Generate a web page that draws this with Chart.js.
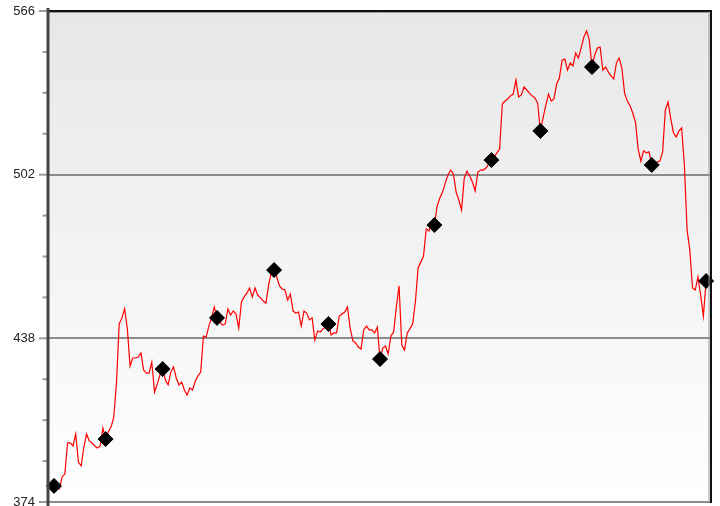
<!DOCTYPE html>
<html>
<head>
<meta charset="utf-8">
<script src="https://cdn.jsdelivr.net/npm/chart.js@4.4.1/dist/chart.umd.min.js"></script>
<style>
  html, body { margin: 0; padding: 0; background: #fff; }
</style>
</head>
<body>
<canvas id="myChart" width="720" height="506"></canvas>
<script>
// valores, un punto por paso
var precios = [
  380.3, 379.5, 379.1, 383.8, 385.0, 397.1, 397.1, 395.9, 400.6, 389.6, 388.1, 395.5, 400.6, 397.9, 397.1, 395.9, 395.1, 395.9, 402.9, 398.6,
  401.4, 403.3, 407.2, 420.5, 443.6, 446.0, 449.5, 441.7, 427.2, 430.3, 430.3, 430.7, 432.3, 425.6, 424.4, 424.4, 428.7, 417.0, 420.1, 423.7,
  426.0, 421.7, 419.8, 424.8, 426.8, 422.5, 419.8, 420.9, 417.8, 415.8, 418.6, 417.8, 421.3, 423.3, 424.8, 438.9, 438.5, 442.8, 446.0, 450.3,
  446.0, 444.4, 443.2, 443.6, 449.5, 447.1, 448.7, 447.5, 442.0, 452.2, 454.2, 455.7, 457.7, 454.2, 457.7, 454.9, 453.8, 452.6, 451.8, 458.9,
  463.9, 464.7, 462.0, 458.5, 457.3, 456.9, 453.0, 455.3, 448.7, 447.9, 448.3, 442.8, 448.7, 447.9, 445.2, 446.0, 437.3, 440.9, 440.5, 441.7,
  442.4, 443.6, 439.3, 440.1, 440.1, 446.7, 447.5, 448.3, 450.3, 442.0, 437.0, 436.2, 434.6, 433.8, 441.3, 442.8, 441.3, 441.3, 440.1, 442.4,
  429.9, 434.2, 435.0, 431.9, 438.9, 440.5, 450.3, 458.5, 435.4, 433.4, 440.1, 441.7, 443.6, 452.2, 465.5, 467.8, 470.2, 480.8, 480.0, 483.1,
  482.3, 489.7, 492.9, 495.2, 498.7, 501.9, 503.8, 502.3, 495.2, 492.1, 488.2, 500.7, 503.4, 501.5, 499.1, 495.6, 503.0, 503.8, 503.8, 504.6,
  506.2, 507.7, 508.9, 510.5, 512.0, 529.6, 530.8, 531.6, 532.8, 533.5, 539.0, 532.4, 533.2, 536.3, 535.1, 533.9, 532.8, 532.0, 530.0, 519.1,
  524.2, 529.2, 533.5, 530.8, 531.6, 537.5, 539.8, 546.8, 547.2, 542.9, 545.7, 544.5, 549.6, 547.6, 551.5, 555.8, 558.2, 554.7, 544.1, 548.8,
  551.5, 551.9, 542.9, 544.1, 542.2, 540.6, 539.4, 545.7, 547.6, 543.7, 533.9, 530.8, 528.9, 526.1, 522.6, 512.0, 507.3, 511.3, 510.5, 510.9,
  505.8, 506.6, 506.9, 507.3, 510.9, 527.3, 530.4, 523.8, 518.3, 516.7, 519.1, 520.3, 505.8, 480.4, 472.5, 457.7, 456.9, 462.0, 454.9, 446.7,
  460.4
];
// posiciones (indice) de los rombos
var marcas = [0, 19, 40, 60, 81, 101, 120, 140, 161, 179, 198, 220, 240];
// etiquetas del eje y
var yTicks = [374, 438, 502, 566];
var yPaso = 16;

var puntosLinea = precios.map(function(v, i){ return {x: i, y: v}; });
var puntosMarca = marcas.map(function(i){ return {x: i, y: precios[i]}; });

// fondo degradado del area
const fondo = {
  id: 'fondo',
  beforeDraw: function(chart){
    var a = chart.chartArea, c = chart.ctx;
    var g = c.createLinearGradient(0, a.top, 0, a.bottom);
    g.addColorStop(0, '#e7e7e7');
    g.addColorStop(1, '#ffffff');
    c.save();
    c.fillStyle = g;
    c.fillRect(a.left, a.top, a.right - a.left, a.bottom - a.top);
    c.restore();
  }
};

// marco y marcas del eje
const marco = {
  id: 'marco',
  afterDraw: function(chart){
    var a = chart.chartArea, c = chart.ctx, y = chart.scales.y;
    c.save();
    // marcas
    c.strokeStyle = '#9a9a9a';
    c.lineWidth = 2;
    y.ticks.forEach(function(t){
      var py = y.getPixelForValue(t.value);
      var mayor = yTicks.indexOf(t.value) >= 0;
      c.beginPath();
      c.moveTo(mayor ? 39 : 42.5, py);
      c.lineTo(a.left - 1, py);
      c.stroke();
    });
    // borde inferior
    c.strokeStyle = '#8c8c8c';
    c.beginPath(); c.moveTo(a.left, a.bottom); c.lineTo(a.right, a.bottom); c.stroke();
    // borde superior y derecho
    c.strokeStyle = '#9a9a9a';
    c.lineWidth = 1;
    c.beginPath(); c.moveTo(a.left, a.top + 1.5); c.lineTo(a.right - 2, a.top + 1.5); c.lineTo(a.right - 2, a.bottom); c.stroke();
    c.strokeStyle = '#111';
    c.lineWidth = 2;
    c.beginPath(); c.moveTo(a.left, a.top); c.lineTo(a.right, a.top); c.lineTo(a.right, a.bottom + 1); c.stroke();
    // eje izquierdo
    c.strokeStyle = '#444';
    c.lineWidth = 3;
    c.beginPath(); c.moveTo(a.left, a.top - 3); c.lineTo(a.left, a.bottom + 4); c.stroke();
    c.restore();
  }
};

const ctx = document.getElementById('myChart');
new Chart(ctx, {
  type: 'line',
  data: {
    datasets: [{
      label: 'marcas',
      data: puntosMarca,
      showLine: false,
      pointStyle: 'rectRot',
      pointRadius: 7.5,
      pointHoverRadius: 7.5,
      backgroundColor: '#000',
      borderColor: '#000',
      borderWidth: 1,
      clip: false,
      order: 0
    }, {
      label: 'precio',
      data: puntosLinea,
      borderColor: '#ff0000',
      borderWidth: 1.2,
      pointRadius: 0,
      tension: 0,
      fill: false,
      order: 1
    }]
  },
  options: {
    responsive: false,
    animation: false,
    events: [],
    layout: { autoPadding: false, padding: { left: 0, top: 11, right: 9, bottom: 4 } },
    plugins: {
      legend: { display: false },
      tooltip: { enabled: false }
    },
    scales: {
      x: {
        type: 'linear',
        display: false,
        min: -2.2,
        max: 241.8
      },
      y: {
        min: yTicks[0],
        max: yTicks[yTicks.length - 1],
        afterFit: function(s){ s.width = 48; s.paddingTop = 0; s.paddingBottom = 0; },
        border: { display: false },
        grid: {
          drawTicks: false,
          lineWidth: 2,
          color: function(c){ return yTicks.indexOf(c.tick.value) >= 0 ? '#8c8c8c' : 'rgba(0,0,0,0)'; }
        },
        ticks: {
          stepSize: yPaso,
          padding: 13,
          color: '#222',
          font: { family: 'Liberation Sans', size: 13 },
          callback: function(v){ return yTicks.indexOf(v) >= 0 ? v : ''; }
        }
      }
    }
  },
  plugins: [fondo, marco]
});
</script>
</body>
</html>
